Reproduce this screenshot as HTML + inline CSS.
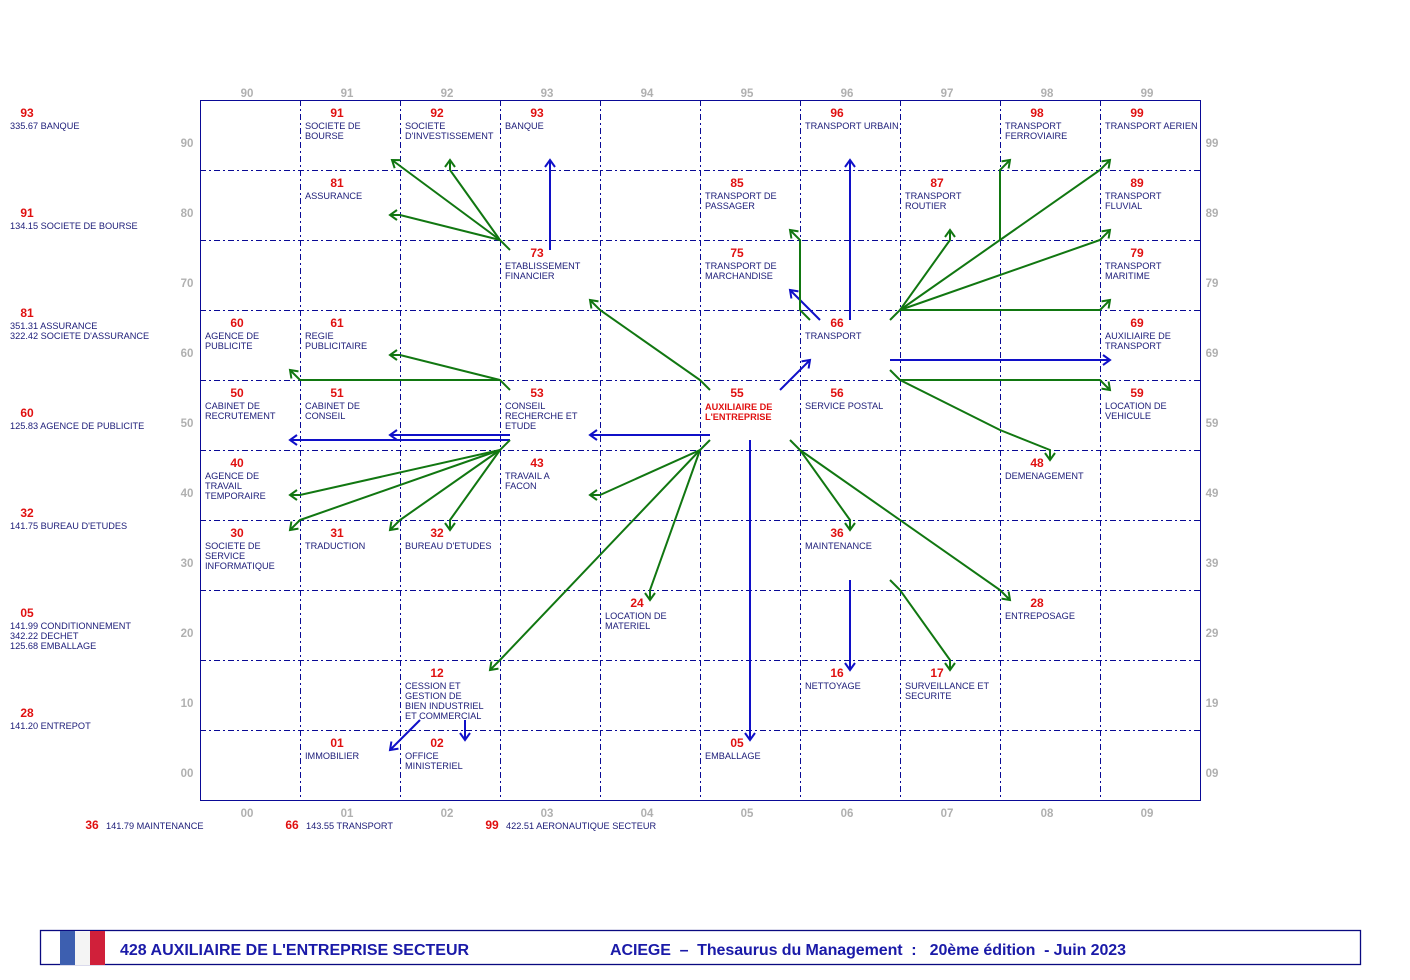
<!DOCTYPE html>
<html><head><meta charset="utf-8"><style>
html,body{margin:0;padding:0;background:#fff;width:1410px;height:980px;overflow:hidden}
svg{display:block}
text{font-family:"Liberation Sans",Arial,sans-serif}
.n{fill:#e01010;font-size:12px;font-weight:bold;text-anchor:middle}
.t{fill:#1c1c78;font-size:9.2px}
.ax{fill:#b0b0b0;font-size:11.5px;font-weight:bold;text-anchor:middle}
.g{stroke:#0a0a96;stroke-width:1;stroke-dasharray:6,3,2,3;fill:none;shape-rendering:crispEdges}
.gr{stroke:#117711;stroke-width:2;fill:none;marker-end:url(#mg)}
.bl{stroke:#1010c8;stroke-width:2;fill:none;marker-end:url(#mb)}
</style></head><body>
<svg width="1410" height="980" xmlns="http://www.w3.org/2000/svg">
<defs>
<marker id="mg" viewBox="0 0 12 12" refX="10" refY="6" markerWidth="12" markerHeight="12" markerUnits="userSpaceOnUse" orient="auto"><path d="M3,1 L10,6 L3,11" fill="none" stroke="#117711" stroke-width="2"/></marker>
<marker id="mb" viewBox="0 0 12 12" refX="10" refY="6" markerWidth="12" markerHeight="12" markerUnits="userSpaceOnUse" orient="auto"><path d="M3,1 L10,6 L3,11" fill="none" stroke="#1010c8" stroke-width="2"/></marker>
</defs>
<!-- grid -->
<g class="g">
<line x1="300.5" y1="100" x2="300.5" y2="800"/><line x1="400.5" y1="100" x2="400.5" y2="800"/><line x1="500.5" y1="100" x2="500.5" y2="800"/><line x1="600.5" y1="100" x2="600.5" y2="800"/><line x1="700.5" y1="100" x2="700.5" y2="800"/><line x1="800.5" y1="100" x2="800.5" y2="800"/><line x1="900.5" y1="100" x2="900.5" y2="800"/><line x1="1000.5" y1="100" x2="1000.5" y2="800"/><line x1="1100.5" y1="100" x2="1100.5" y2="800"/>
<line x1="200" y1="170.5" x2="1200" y2="170.5"/><line x1="200" y1="240.5" x2="1200" y2="240.5"/><line x1="200" y1="310.5" x2="1200" y2="310.5"/><line x1="200" y1="380.5" x2="1200" y2="380.5"/><line x1="200" y1="450.5" x2="1200" y2="450.5"/><line x1="200" y1="520.5" x2="1200" y2="520.5"/><line x1="200" y1="590.5" x2="1200" y2="590.5"/><line x1="200" y1="660.5" x2="1200" y2="660.5"/><line x1="200" y1="730.5" x2="1200" y2="730.5"/>
</g>
<rect x="200.5" y="100.5" width="1000" height="700" fill="none" stroke="#0a0a96" stroke-width="1" shape-rendering="crispEdges"/>
<!-- axis labels -->
<g class="ax">
<text x="247" y="97">90</text><text x="347" y="97">91</text><text x="447" y="97">92</text><text x="547" y="97">93</text><text x="647" y="97">94</text><text x="747" y="97">95</text><text x="847" y="97">96</text><text x="947" y="97">97</text><text x="1047" y="97">98</text><text x="1147" y="97">99</text>
<text x="247" y="817">00</text><text x="347" y="817">01</text><text x="447" y="817">02</text><text x="547" y="817">03</text><text x="647" y="817">04</text><text x="747" y="817">05</text><text x="847" y="817">06</text><text x="947" y="817">07</text><text x="1047" y="817">08</text><text x="1147" y="817">09</text>
<text x="187" y="147">90</text><text x="187" y="217">80</text><text x="187" y="287">70</text><text x="187" y="357">60</text><text x="187" y="427">50</text><text x="187" y="497">40</text><text x="187" y="567">30</text><text x="187" y="637">20</text><text x="187" y="707">10</text><text x="187" y="777">00</text>
<text x="1212" y="147">99</text><text x="1212" y="217">89</text><text x="1212" y="287">79</text><text x="1212" y="357">69</text><text x="1212" y="427">59</text><text x="1212" y="497">49</text><text x="1212" y="567">39</text><text x="1212" y="637">29</text><text x="1212" y="707">19</text><text x="1212" y="777">09</text>
</g>
<!-- cells -->
<g>
<text class="n" x="337" y="117">91</text><text class="t" x="305" y="129">SOCIETE DE</text><text class="t" x="305" y="139">BOURSE</text>
<text class="n" x="437" y="117">92</text><text class="t" x="405" y="129">SOCIETE</text><text class="t" x="405" y="139">D'INVESTISSEMENT</text>
<text class="n" x="537" y="117">93</text><text class="t" x="505" y="129">BANQUE</text>
<text class="n" x="837" y="117">96</text><text class="t" x="805" y="129">TRANSPORT URBAIN</text>
<text class="n" x="1037" y="117">98</text><text class="t" x="1005" y="129">TRANSPORT</text><text class="t" x="1005" y="139">FERROVIAIRE</text>
<text class="n" x="1137" y="117">99</text><text class="t" x="1105" y="129">TRANSPORT AERIEN</text>
<text class="n" x="337" y="187">81</text><text class="t" x="305" y="199">ASSURANCE</text>
<text class="n" x="737" y="187">85</text><text class="t" x="705" y="199">TRANSPORT DE</text><text class="t" x="705" y="209">PASSAGER</text>
<text class="n" x="937" y="187">87</text><text class="t" x="905" y="199">TRANSPORT</text><text class="t" x="905" y="209">ROUTIER</text>
<text class="n" x="1137" y="187">89</text><text class="t" x="1105" y="199">TRANSPORT</text><text class="t" x="1105" y="209">FLUVIAL</text>
<text class="n" x="537" y="257">73</text><text class="t" x="505" y="269">ETABLISSEMENT</text><text class="t" x="505" y="279">FINANCIER</text>
<text class="n" x="737" y="257">75</text><text class="t" x="705" y="269">TRANSPORT DE</text><text class="t" x="705" y="279">MARCHANDISE</text>
<text class="n" x="1137" y="257">79</text><text class="t" x="1105" y="269">TRANSPORT</text><text class="t" x="1105" y="279">MARITIME</text>
<text class="n" x="237" y="327">60</text><text class="t" x="205" y="339">AGENCE DE</text><text class="t" x="205" y="349">PUBLICITE</text>
<text class="n" x="337" y="327">61</text><text class="t" x="305" y="339">REGIE</text><text class="t" x="305" y="349">PUBLICITAIRE</text>
<text class="n" x="837" y="327">66</text><text class="t" x="805" y="339">TRANSPORT</text>
<text class="n" x="1137" y="327">69</text><text class="t" x="1105" y="339">AUXILIAIRE DE</text><text class="t" x="1105" y="349">TRANSPORT</text>
<text class="n" x="237" y="397">50</text><text class="t" x="205" y="409">CABINET DE</text><text class="t" x="205" y="419">RECRUTEMENT</text>
<text class="n" x="337" y="397">51</text><text class="t" x="305" y="409">CABINET DE</text><text class="t" x="305" y="419">CONSEIL</text>
<text class="n" x="537" y="397">53</text><text class="t" x="505" y="409">CONSEIL</text><text class="t" x="505" y="419">RECHERCHE ET</text><text class="t" x="505" y="429">ETUDE</text>
<text class="n" x="737" y="397">55</text><text class="t" x="705" y="410" style="fill:#e01010;font-weight:bold">AUXILIAIRE DE</text><text class="t" x="705" y="420" style="fill:#e01010;font-weight:bold">L'ENTREPRISE</text>
<text class="n" x="837" y="397">56</text><text class="t" x="805" y="409">SERVICE POSTAL</text>
<text class="n" x="1137" y="397">59</text><text class="t" x="1105" y="409">LOCATION DE</text><text class="t" x="1105" y="419">VEHICULE</text>
<text class="n" x="237" y="467">40</text><text class="t" x="205" y="479">AGENCE DE</text><text class="t" x="205" y="489">TRAVAIL</text><text class="t" x="205" y="499">TEMPORAIRE</text>
<text class="n" x="537" y="467">43</text><text class="t" x="505" y="479">TRAVAIL A</text><text class="t" x="505" y="489">FACON</text>
<text class="n" x="1037" y="467">48</text><text class="t" x="1005" y="479">DEMENAGEMENT</text>
<text class="n" x="237" y="537">30</text><text class="t" x="205" y="549">SOCIETE DE</text><text class="t" x="205" y="559">SERVICE</text><text class="t" x="205" y="569">INFORMATIQUE</text>
<text class="n" x="337" y="537">31</text><text class="t" x="305" y="549">TRADUCTION</text>
<text class="n" x="437" y="537">32</text><text class="t" x="405" y="549">BUREAU D'ETUDES</text>
<text class="n" x="837" y="537">36</text><text class="t" x="805" y="549">MAINTENANCE</text>
<text class="n" x="637" y="607">24</text><text class="t" x="605" y="619">LOCATION DE</text><text class="t" x="605" y="629">MATERIEL</text>
<text class="n" x="1037" y="607">28</text><text class="t" x="1005" y="619">ENTREPOSAGE</text>
<text class="n" x="437" y="677">12</text><text class="t" x="405" y="689">CESSION ET</text><text class="t" x="405" y="699">GESTION DE</text><text class="t" x="405" y="709">BIEN INDUSTRIEL</text><text class="t" x="405" y="719">ET COMMERCIAL</text>
<text class="n" x="837" y="677">16</text><text class="t" x="805" y="689">NETTOYAGE</text>
<text class="n" x="937" y="677">17</text><text class="t" x="905" y="689">SURVEILLANCE ET</text><text class="t" x="905" y="699">SECURITE</text>
<text class="n" x="337" y="747">01</text><text class="t" x="305" y="759">IMMOBILIER</text>
<text class="n" x="437" y="747">02</text><text class="t" x="405" y="759">OFFICE</text><text class="t" x="405" y="769">MINISTERIEL</text>
<text class="n" x="737" y="747">05</text><text class="t" x="705" y="759">EMBALLAGE</text>
</g>
<!-- left labels -->
<g>
<text class="n" x="27" y="117">93</text><text class="t" x="10" y="129">335.67 BANQUE</text>
<text class="n" x="27" y="217">91</text><text class="t" x="10" y="229">134.15 SOCIETE DE BOURSE</text>
<text class="n" x="27" y="317">81</text><text class="t" x="10" y="329">351.31 ASSURANCE</text><text class="t" x="10" y="339">322.42 SOCIETE D'ASSURANCE</text>
<text class="n" x="27" y="417">60</text><text class="t" x="10" y="429">125.83 AGENCE DE PUBLICITE</text>
<text class="n" x="27" y="517">32</text><text class="t" x="10" y="529">141.75 BUREAU D'ETUDES</text>
<text class="n" x="27" y="617">05</text><text class="t" x="10" y="629">141.99 CONDITIONNEMENT</text><text class="t" x="10" y="639">342.22 DECHET</text><text class="t" x="10" y="649">125.68 EMBALLAGE</text>
<text class="n" x="27" y="717">28</text><text class="t" x="10" y="729">141.20 ENTREPOT</text>
<text class="n" x="92" y="829">36</text><text class="t" x="106" y="829">141.79 MAINTENANCE</text>
<text class="n" x="292" y="829">66</text><text class="t" x="306" y="829">143.55 TRANSPORT</text>
<text class="n" x="492" y="829">99</text><text class="t" x="506" y="829">422.51 AERONAUTIQUE SECTEUR</text>
</g>
<!-- arrows -->
<polyline class="gr" points="510,250 500,240 392,160"/>
<polyline class="gr" points="500,240 450,170 450,160"/>
<polyline class="gr" points="500,240 400,215 390,215"/>
<polyline class="bl" points="550,250 550,160"/>
<polyline class="gr" points="710,390 700,380 600,310 590,300"/>
<polyline class="bl" points="780,390 810,360"/>
<polyline class="bl" points="820,320 790,290"/>
<polyline class="gr" points="810,320 800,310 800,240 790,230"/>
<polyline class="bl" points="850,320 850,160"/>
<polyline class="bl" points="710,435 590,435"/>
<polyline class="bl" points="750,440 750,740"/>
<polyline class="gr" points="710,440 700,450 600,495 590,495"/>
<polyline class="gr" points="700,450 650,590 650,600"/>
<polyline class="gr" points="700,450 500,660 490,670"/>
<polyline class="gr" points="790,440 800,450 850,520 850,530"/>
<polyline class="gr" points="800,450 1000,590 1010,600"/>
<polyline class="bl" points="850,580 850,670"/>
<polyline class="gr" points="890,580 900,590 950,660 950,670"/>
<polyline class="gr" points="890,320 900,310 950,240 950,230"/>
<polyline class="gr" points="900,310 1000,240 1000,170 1010,160"/>
<polyline class="gr" points="1000,240 1100,170 1110,160"/>
<polyline class="gr" points="900,310 1100,240 1110,230"/>
<polyline class="gr" points="900,310 1100,310 1110,300"/>
<polyline class="bl" points="890,360 1110,360"/>
<polyline class="gr" points="890,370 900,380 1100,380 1110,390"/>
<polyline class="gr" points="900,380 1000,430 1050,450 1050,460"/>
<polyline class="gr" points="510,390 500,380 400,380 300,380 290,370"/>
<polyline class="gr" points="500,380 400,355 390,355"/>
<polyline class="bl" points="510,435 390,435"/>
<polyline class="bl" points="510,440 290,440"/>
<polyline class="gr" points="510,440 500,450 300,495 290,495"/>
<polyline class="gr" points="500,450 300,520 290,530"/>
<polyline class="gr" points="500,450 400,520 390,530"/>
<polyline class="gr" points="500,450 450,520 450,530"/>
<polyline class="bl" points="420,720 390,750"/>
<polyline class="bl" points="465,720 465,740"/>
<!-- footer -->
<rect x="40.5" y="930.5" width="1320" height="34" fill="none" stroke="#0a0a80" stroke-width="1.3"/>
<rect x="60" y="931" width="15" height="34" fill="#3d5fb0"/>
<rect x="75" y="931" width="15" height="34" fill="#f4f4f4"/>
<rect x="90" y="931" width="15" height="34" fill="#d0203a"/>
<text x="120" y="955" style="fill:#1a1aa8;font-size:16px;font-weight:bold">428  AUXILIAIRE DE L'ENTREPRISE SECTEUR</text>
<text x="610" y="955" style="fill:#1a1aa8;font-size:16px;font-weight:bold" xml:space="preserve" textLength="516">ACIEGE  –  Thesaurus du Management  :   20ème édition  - Juin 2023</text>
</svg>
</body></html>
